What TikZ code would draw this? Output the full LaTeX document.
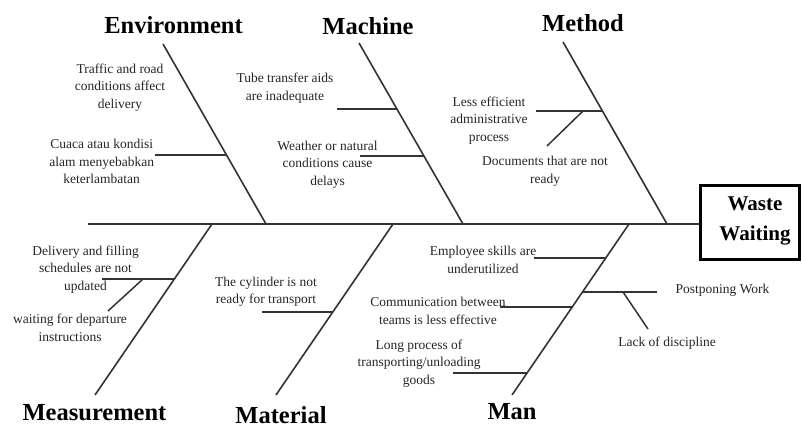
\documentclass[tikz,border=0pt]{standalone}
\usepackage{fontspec}
\setmainfont{Liberation Serif}
\begin{document}
\begin{tikzpicture}[x=1pt,y=-1pt,
  spine/.style={draw=black!80, line width=2pt},
  bone/.style={draw=black!80, line width=1.6pt},
  rib/.style={draw=black!80, line width=1.5pt},
  cause/.style={font=\fontsize{13.5}{17.5}\selectfont, align=center, text=black!85, inner sep=0pt},
  cat/.style={font=\fontsize{24.5}{28}\selectfont\bfseries, inner sep=0pt},
  effectbox/.style={draw=black, line width=3pt, minimum width=99pt, minimum height=74pt, inner sep=0pt},
  effecttext/.style={font=\fontsize{21}{30}\selectfont\bfseries, align=center, inner sep=0pt},
]
\useasboundingbox (0,0) rectangle (802,425);
\fill[white] (0,0) rectangle (802,425);

% effect box and spine
\node[effectbox] (effect) at (750,222) {};
\node[effecttext] (effectlabel) at (755,221) {Waste\\Waiting};
\coordinate (tail) at (88,224);
\draw[spine] (tail) -- (tail -| effect.west);

% category headings
\node[cat] (envT) at (173.5,25) {Environment};
\node[cat] (macT) at (368,26) {Machine};
\node[cat] (metT) at (583,23) {Method};
\node[cat] (meaT) at (94.5,413) {Measurement};
\node[cat] (matT) at (281,415) {Material};
\node[cat] (manT) at (512,412) {Man};

% main bones
\coordinate (envTop) at (163,44);  \coordinate (envFoot) at (266,224);
\coordinate (macTop) at (359,43);  \coordinate (macFoot) at (463,224);
\coordinate (metTop) at (563,42);  \coordinate (metFoot) at (667,224);
\coordinate (meaFoot) at (212,224); \coordinate (meaEnd) at (95,395);
\coordinate (matFoot) at (393,224); \coordinate (matEnd) at (276,395);
\coordinate (manFoot) at (629,224); \coordinate (manEnd) at (512,395);
\draw[bone] (envTop) -- (envFoot);
\draw[bone] (macTop) -- (macFoot);
\draw[bone] (metTop) -- (metFoot);
\draw[bone] (meaFoot) -- (meaEnd);
\draw[bone] (matFoot) -- (matEnd);
\draw[bone] (manFoot) -- (manEnd);

% Environment causes
\node[cause] (traffic) at (120,87.5) {Traffic and road\\conditions affect\\delivery};
\node[cause] (cuaca) at (101.7,161.5) {Cuaca atau kondisi\\alam menyebabkan\\keterlambatan};
\coordinate (e1a) at (227,155); \coordinate (e1b) at (155,155);
\draw[rib] (e1a) -- (e1b);

% Machine causes
\node[cause] (tube) at (285,88) {Tube transfer aids\\are inadequate};
\node[cause] (weather) at (327.5,164.5) {Weather or natural\\conditions cause\\delays};
\coordinate (m1a) at (397,109); \coordinate (m1b) at (337,109);
\coordinate (m2a) at (424,156); \coordinate (m2b) at (360,156);
\draw[rib] (m1a) -- (m1b);
\draw[rib] (m2a) -- (m2b);

% Method causes
\node[cause] (admin) at (489,120.5) {Less efficient\\administrative\\process};
\node[cause] (docs) at (545,171.5) {Documents that are not\\ready};
\coordinate (t1a) at (603,111); \coordinate (t1b) at (536,111);
\coordinate (t2a) at (583,111); \coordinate (t2b) at (547,146);
\draw[rib] (t1a) -- (t1b);
\draw[rib] (t2a) -- (t2b);

% Measurement causes
\node[cause] (sched) at (85.5,269.5) {Delivery and filling\\schedules are not\\updated};
\node[cause] (depart) at (70,328) {waiting for departure\\instructions};
\coordinate (s1a) at (174,279); \coordinate (s1b) at (102,279);
\coordinate (s2a) at (143,279); \coordinate (s2b) at (108,311);
\draw[rib] (s1a) -- (s1b);
\draw[rib] (s2a) -- (s2b);

% Material causes
\node[cause] (cyl) at (266,292) {The cylinder is not\\ready for transport};
\coordinate (a1a) at (333,312); \coordinate (a1b) at (262,312);
\draw[rib] (a1a) -- (a1b);

% Man causes
\node[cause] (skills) at (483,260) {Employee skills are\\underutilized};
\node[cause] (comm) at (438,311) {Communication between\\teams is less effective};
\node[cause] (longp) at (419,363.5) {Long process of\\transporting/unloading\\goods};
\node[cause] (postpone) at (722.5,290) {Postponing Work};
\node[cause] (lack) at (667,343) {Lack of discipline};
\coordinate (n1a) at (606,258); \coordinate (n1b) at (534,258);
\coordinate (n2a) at (573,307); \coordinate (n2b) at (500,307);
\coordinate (n3a) at (527,373); \coordinate (n3b) at (453,373);
\coordinate (n4a) at (583,292); \coordinate (n4b) at (657,292);
\coordinate (n5a) at (623,292); \coordinate (n5b) at (648,329);
\draw[rib] (n1a) -- (n1b);
\draw[rib] (n2a) -- (n2b);
\draw[rib] (n3a) -- (n3b);
\draw[rib] (n4a) -- (n4b);
\draw[rib] (n5a) -- (n5b);
\end{tikzpicture}
\end{document}
